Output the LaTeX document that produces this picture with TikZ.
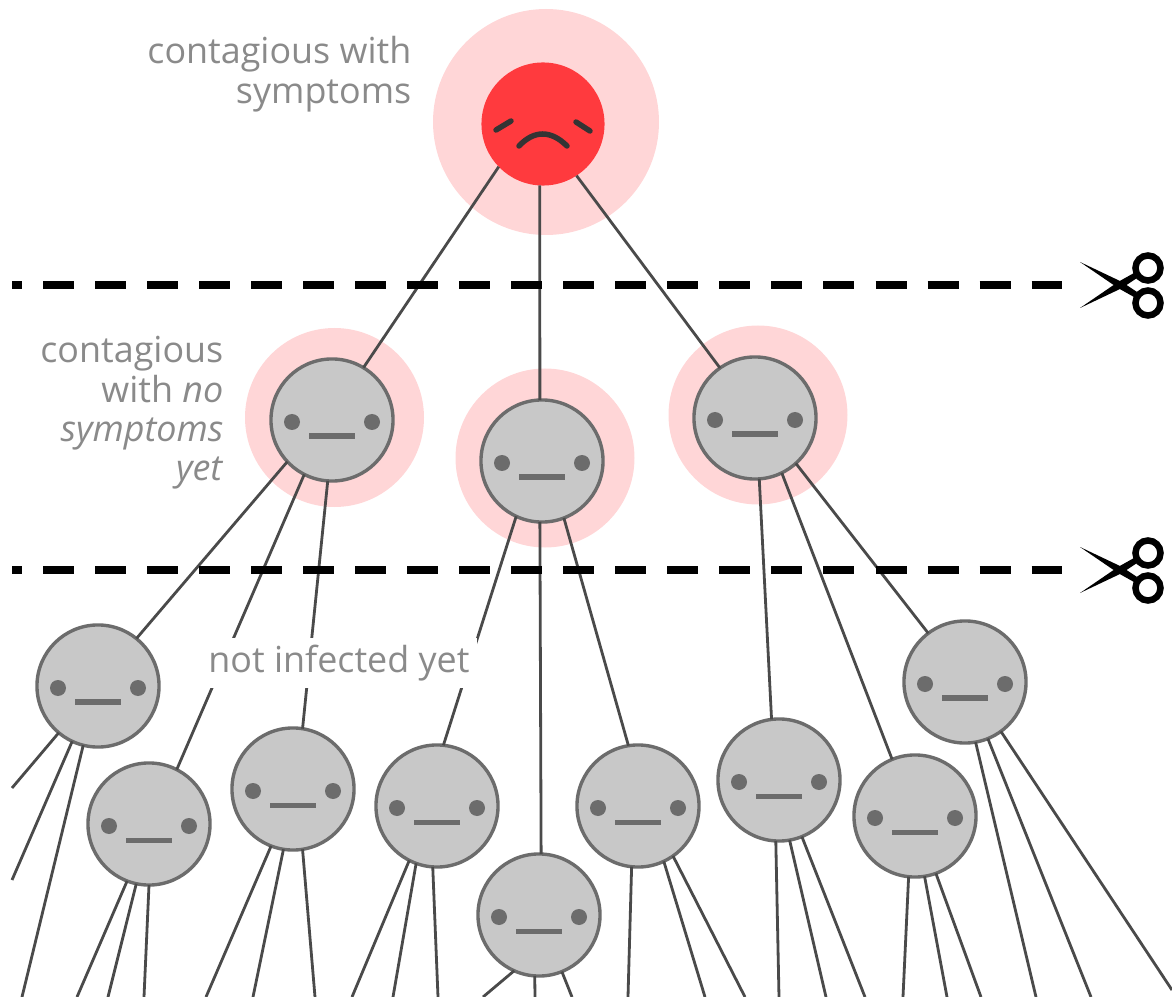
\documentclass[tikz,border=0pt]{standalone}
\usepackage{fontspec}
\setmainfont{Open Sans}
\usepackage{xcolor}
\usepackage{tikz}

\definecolor{haloPink}{HTML}{FFD6D7}
\definecolor{sickRed}{HTML}{FF3A3E}
\definecolor{faceGrey}{HTML}{C8C8C8}
\definecolor{edgeGrey}{HTML}{6C6C6C}
\definecolor{wireGrey}{HTML}{4A4A4A}
\definecolor{labelGrey}{HTML}{8A8A8A}

\tikzset{
	person/.style={circle, draw=edgeGrey, fill=faceGrey, line width=0.034cm, minimum size=1.22cm, inner sep=0pt, outer sep=0pt},
	sick/.style={circle, fill=sickRed, minimum size=1.23cm, inner sep=0pt, outer sep=0pt},
	halo/.style={fill=haloPink},
	wire/.style={draw=wireGrey, line width=0.028cm},
	cutline/.style={draw=black, line width=0.085cm, dash pattern=on 0.31cm off 0.21cm, dash phase=0.21cm},
	caption/.style={text=labelGrey, align=right, font=\fontsize{10.2}{11.2}\selectfont, inner sep=0pt},
	pics/calm/.style={code={
		\fill [edgeGrey] (-40,2) circle (8);
		\fill [edgeGrey] (40,2) circle (8);
		\draw [edgeGrey, line width=0.05cm] (-23,16) -- (23,16);
	}},
	pics/snips/.style={code={
		\fill [black] (-40,-23) -- (1.7,-3.2) -- (17,7) -- (14,12) -- (-1.7,3.2) -- cycle;
		\fill [black] (-40,23) -- (1.7,3.2) -- (17,-7) -- (14,-12) -- (-1.7,-3.2) -- cycle;
		\draw [black, line width=0.065cm] (28,-17) circle (12.5);
		\draw [black, line width=0.065cm] (28,18) circle (12.5);
	}}
}

\begin{document}
\begin{tikzpicture}[x=0.01cm, y=-0.01cm]
	\useasboundingbox (0,0) rectangle (1172,997);
	
	% halos
	\fill [halo] (546,122) circle (113);
	\fill [halo] (334.5,417.5) circle (89.5);
	\fill [halo] (545,458) circle (89.5);
	\fill [halo] (758,415) circle (89.5);
	
	\node [sick] (top) at (543,124) {};
	
	\foreach \who/\x/\y in {a/332/420, b/542/461, c/755/418, d/98/686, e/149/824, f/293/789, g/437/806, h/539/915, i/638/806, j/779/780, k/915/816, l/965/682} {
		\node [person] (\who) at (\x,\y) {};
		\pic at (\who) {calm};
	}
	
	% sad face
	\draw [wireGrey!70!black, line width=0.055cm, line cap=round] (496,130) -- (511,121);
	\draw [wireGrey!70!black, line width=0.055cm, line cap=round] (576,122) -- (590,131);
	\draw [wireGrey!70!black, line width=0.055cm, line cap=round] (519,146) .. controls (534,130) and (551,130) .. (567,146);
	
	% infections
	\foreach \from/\angA/\to/\angB in {top/224/a/59, top/-93/b/92, top/-57/c/125, a/-137/d/51, a/-117/e/63, a/-94/f/81, b/-115/g/84, b/-92/h/88, b/-69/i/99, c/-86/j/97, c/-64/k/112, c/-48/l/127} {
		\draw [wire] (\from.\angA) -- (\to.\angB);
	}
	
	% free ends
	\foreach \who/\ang/\ex/\ey [count=\i] in {d/-130/12/788, d/-115/12/880, d/-104/22/997, e/-111/77/997, e/-102/108/997, e/-90/144/997, f/-111/206/997, f/-99/253/997, f/-81/315/997, g/-117/352/997, g/-110/393/997, g/-94/438/997, h/-114/483/997, h/-94/535/997, h/-68/572/997, i/-96/628/997, i/-65/705/997, i/-55/745/997, j/-93/779/997, j/-80/826/997, j/-68/865/997, k/-96/903/997, k/-81/947/997, k/-70/981/997, l/-80/1036/997, l/-68/1091/997, l/-54/1172/990} {
		\coordinate (end\i) at (\ex,\ey);
		\draw [wire] (\who.\ang) -- (end\i);
	}
	
	% cut lines
	\coordinate (cutA) at (12,285);
	\coordinate (cutB) at (1062,285);
	\coordinate (cutC) at (12,570);
	\coordinate (cutD) at (1062,570);
	\draw [cutline] (cutA) -- (cutB);
	\draw [cutline] (cutC) -- (cutD);
	\pic at (1120,285) {snips};
	\pic at (1120,570) {snips};
	
	\node [caption, anchor=east] (lblTop) at (412,74) {contagious with\\symptoms};
	\node [caption, anchor=east] (lblMid) at (224,413) {contagious\\with \textit{no}\\\textit{symptoms}\\\textit{yet}};
	\node [caption, fill=white, minimum height=0.49cm, minimum width=2.76cm] (lblNot) at (339,663) {not infected yet};
\end{tikzpicture}
\end{document}
